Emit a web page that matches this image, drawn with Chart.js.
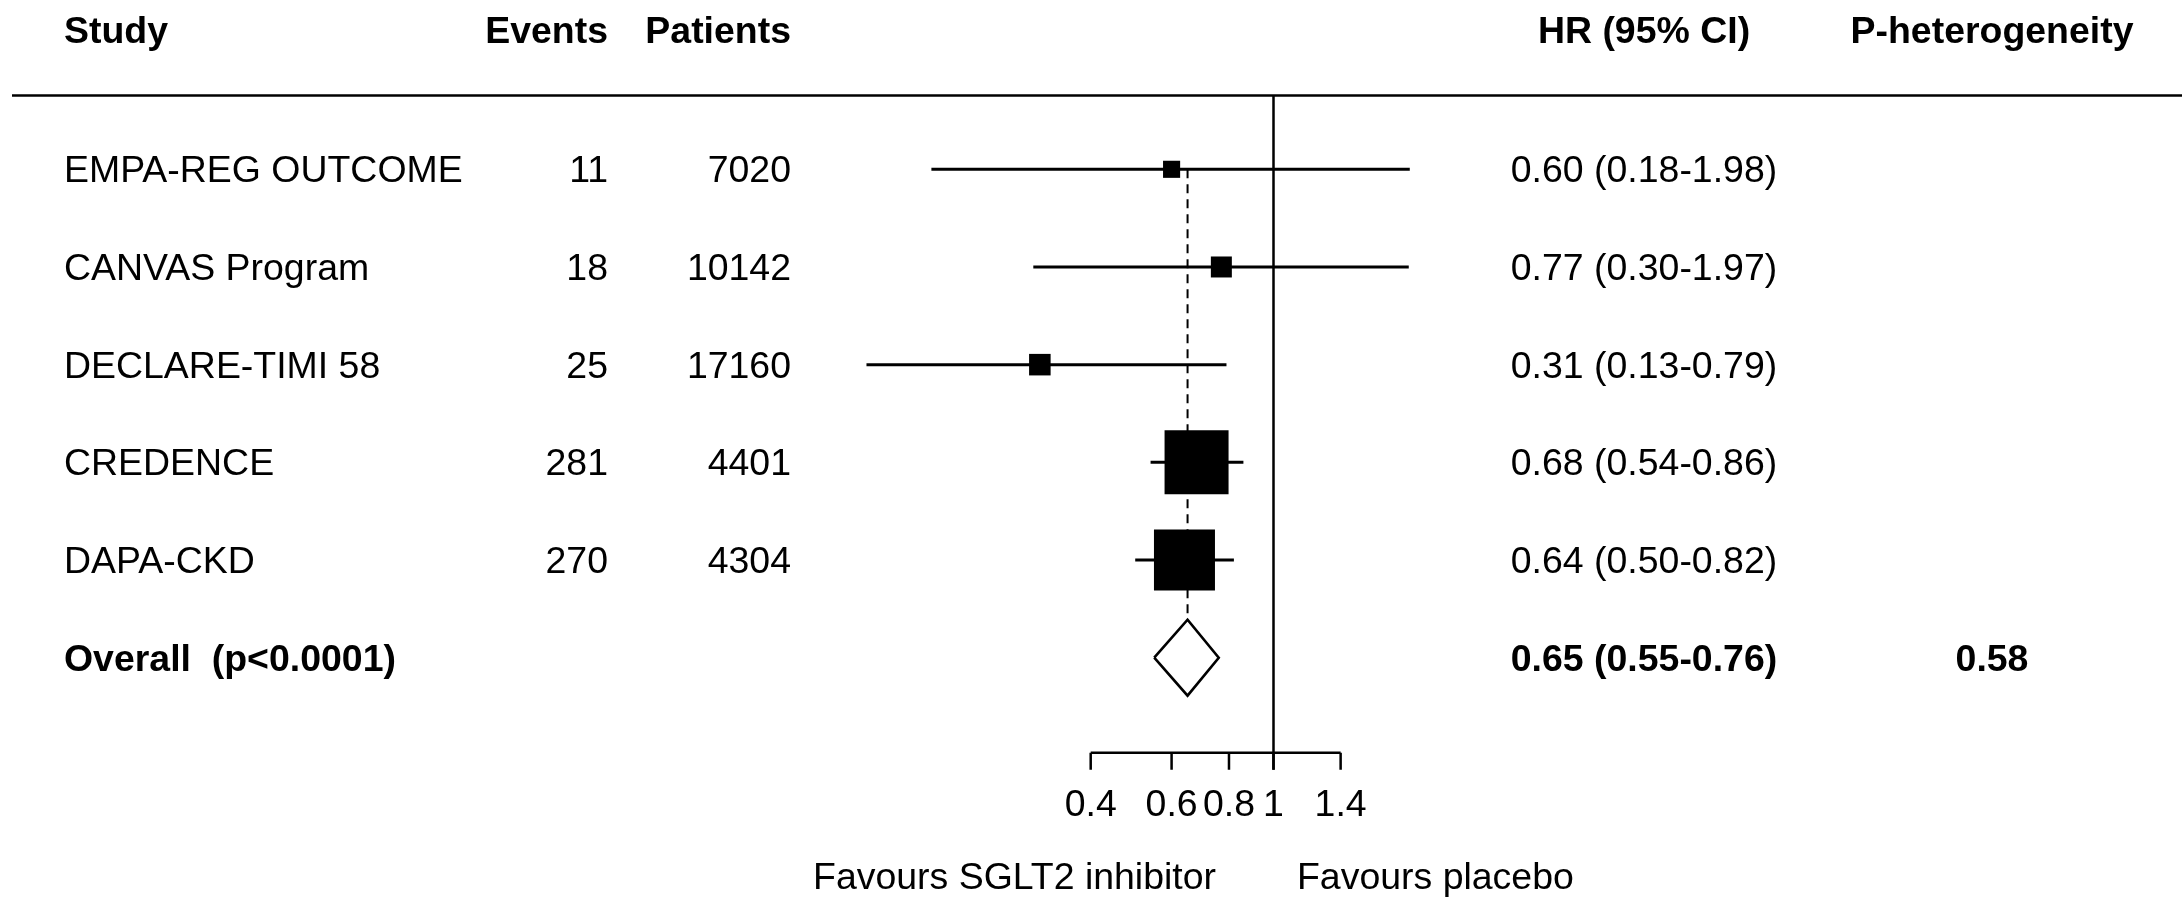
<!DOCTYPE html>
<html>
<head>
<meta charset="utf-8">
<script src="https://cdn.jsdelivr.net/npm/chart.js@4.4.1/dist/chart.umd.min.js"></script>
<style>
  html, body { margin: 0; padding: 0; background: #ffffff; }
  #wrap { width: 2182px; height: 897px; position: relative; }
</style>
</head>
<body>
<div id="wrap"><canvas id="forest"></canvas></div>
<script>
// ---------------- data ----------------
const studies   = ['EMPA-REG OUTCOME', 'CANVAS Program', 'DECLARE-TIMI 58', 'CREDENCE', 'DAPA-CKD'];
const events    = [11, 18, 25, 281, 270];
const patients  = [7020, 10142, 17160, 4401, 4304];
const hr        = [0.60, 0.77, 0.31, 0.68, 0.64];
const ciLow     = [0.18, 0.30, 0.13, 0.54, 0.50];
const ciHigh    = [1.98, 1.97, 0.79, 0.86, 0.82];
const weights   = [1.8, 3.0, 3.2, 48.7, 43.2];   // relative weight (%), sets box size

const overallLabel = 'Overall  (p<0.0001)';
const overallHR    = 0.65;
const overallLow   = 0.55;
const overallHigh  = 0.76;
const pHeterogeneity = '0.58';

const xTicks      = [0.4, 0.6, 0.8, 1, 1.4];
const xTickLabels = ['0.4', '0.6', '0.8', '1', '1.4'];
const headers     = ['Study', 'Events', 'Patients', 'HR (95% CI)', 'P-heterogeneity'];
const favoursLeft  = 'Favours SGLT2 inhibitor';
const favoursRight = 'Favours placebo';

// ---------------- layout (pixels / row units) ----------------
const W = 2182, H = 897;
const ROW_PX = 97.68, ROW0_PX = 169.3;
const yMin = -ROW0_PX / ROW_PX, yMax = yMin + H / ROW_PX;
const PX_PER_LN = 199.5, X1_PX = 1273.5;
const xMin = Math.exp(-X1_PX / PX_PER_LN), xMax = Math.exp((W - X1_PX) / PX_PER_LN);

const LY = { header: -1.295, rule: -0.755, axis: 5.973, tickEnd: 6.146, tickLabel: 6.621, favours: 7.37, diamondHalf: 0.389 };
const COL = { study: 64, events: 608, patients: 791, hr: 1644, phet: 1992, favL: 1216, favR: 1297, ruleStart: 12 };
const FONT = '"Liberation Sans", Arial, Helvetica, sans-serif';
const FS = 36, SX = 1.04;
const overallRow = studies.length;
const fmt2 = v => v.toFixed(2);

// ---------------- datasets ----------------
const wMax = Math.max(...weights);
const boxRadius = ctx => (64 * Math.pow(weights[ctx.dataIndex] / wMax, 0.4)) / Math.SQRT2;
const squareDs = {
  label: 'HR', order: 0,
  data: studies.map((s, i) => ({ x: hr[i], y: i })),
  pointStyle: 'rect',
  pointRadius: boxRadius, pointHoverRadius: boxRadius,
  backgroundColor: '#000', borderColor: '#000', pointBorderWidth: 0, showLine: false
};
const ciDs = studies.map((s, i) => ({
  label: s + ' CI', order: 2,
  data: [{ x: ciLow[i], y: i }, { x: ciHigh[i], y: i }],
  showLine: true, borderColor: '#000', borderWidth: 3, pointRadius: 0, pointHoverRadius: 0
}));
const h = LY.diamondHalf;
const diamondDs = {
  label: 'Overall', order: 1,
  data: [
    { x: overallLow, y: overallRow }, { x: overallHR, y: overallRow - h },
    { x: overallHigh, y: overallRow }, { x: overallHR, y: overallRow + h },
    { x: overallLow, y: overallRow }
  ],
  showLine: true, borderColor: '#000', borderWidth: 2.6, borderJoinStyle: 'miter',
  pointRadius: 0, pointHoverRadius: 0, fill: false
};
const dashDs = {
  label: 'Overall estimate', order: 3,
  data: [{ x: overallHR, y: 0 }, { x: overallHR, y: overallRow - h }],
  showLine: true, borderColor: '#000', borderWidth: 2, borderDash: [9, 6], pointRadius: 0, pointHoverRadius: 0
};
const nullDs = {
  label: 'No effect', order: 3,
  data: [{ x: 1, y: LY.rule }, { x: 1, y: LY.tickEnd }],
  showLine: true, borderColor: '#000', borderWidth: 2.5, pointRadius: 0, pointHoverRadius: 0
};
const axisDs = {
  label: 'Axis', order: 3,
  data: [{ x: xTicks[0], y: LY.axis }, { x: xTicks[xTicks.length - 1], y: LY.axis }],
  showLine: true, borderColor: '#000', borderWidth: 2.5, pointRadius: 0, pointHoverRadius: 0
};
const tickDs = xTicks.map(t => ({
  label: 'tick ' + t, order: 3,
  data: [{ x: t, y: LY.axis }, { x: t, y: LY.tickEnd }],
  showLine: true, borderColor: '#000', borderWidth: 2.5, pointRadius: 0, pointHoverRadius: 0
}));

// ---------------- text plugin ----------------
function txt(ctx, s, x, y, align, bold) {
  ctx.save();
  ctx.font = (bold ? 'bold ' : '') + FS + 'px ' + FONT;
  ctx.fillStyle = '#000';
  ctx.textAlign = align;
  ctx.textBaseline = 'alphabetic';
  ctx.translate(x, y);
  ctx.scale(SX, 1);
  ctx.fillText(s, 0, 0);
  ctx.restore();
}
const tablePlugin = {
  id: 'forestTable',
  beforeDatasetsDraw(chart) {
    const ctx = chart.ctx, ys = chart.scales.y;
    const yr = ys.getPixelForValue(LY.rule);
    ctx.save();
    ctx.strokeStyle = '#000'; ctx.lineWidth = 2.5;
    ctx.beginPath(); ctx.moveTo(COL.ruleStart, yr); ctx.lineTo(W, yr); ctx.stroke();
    ctx.restore();
  },
  afterDatasetsDraw(chart) {
    const ctx = chart.ctx, xs = chart.scales.x, ys = chart.scales.y;
    const base = v => ys.getPixelForValue(v) + 13;
    const yh = ys.getPixelForValue(LY.header);
    txt(ctx, headers[0], COL.study, yh, 'left', true);
    txt(ctx, headers[1], COL.events, yh, 'right', true);
    txt(ctx, headers[2], COL.patients, yh, 'right', true);
    txt(ctx, headers[3], COL.hr, yh, 'center', true);
    txt(ctx, headers[4], COL.phet, yh, 'center', true);
    studies.forEach((s, i) => {
      const y = base(i);
      txt(ctx, s, COL.study, y, 'left', false);
      txt(ctx, String(events[i]), COL.events, y, 'right', false);
      txt(ctx, String(patients[i]), COL.patients, y, 'right', false);
      txt(ctx, fmt2(hr[i]) + ' (' + fmt2(ciLow[i]) + '-' + fmt2(ciHigh[i]) + ')', COL.hr, y, 'center', false);
    });
    const yo = base(overallRow);
    txt(ctx, overallLabel, COL.study, yo, 'left', true);
    txt(ctx, fmt2(overallHR) + ' (' + fmt2(overallLow) + '-' + fmt2(overallHigh) + ')', COL.hr, yo, 'center', true);
    txt(ctx, pHeterogeneity, COL.phet, yo, 'center', true);
    const yt = ys.getPixelForValue(LY.tickLabel);
    xTicks.forEach((t, i) => txt(ctx, xTickLabels[i], xs.getPixelForValue(t), yt, 'center', false));
    const yf = ys.getPixelForValue(LY.favours);
    txt(ctx, favoursLeft, COL.favL, yf, 'right', false);
    txt(ctx, favoursRight, COL.favR, yf, 'left', false);
  }
};

new Chart(document.getElementById('forest'), {
  type: 'scatter',
  data: { datasets: [squareDs, diamondDs, ...ciDs, dashDs, nullDs, axisDs, ...tickDs] },
  options: {
    responsive: true, maintainAspectRatio: false, animation: false, events: [],
    layout: { padding: 0, autoPadding: false },
    plugins: { legend: { display: false }, tooltip: { enabled: false } },
    scales: {
      x: { type: 'logarithmic', min: xMin, max: xMax, display: false },
      y: { type: 'linear', min: yMin, max: yMax, reverse: true, display: false }
    }
  },
  plugins: [tablePlugin]
});
</script>
</body>
</html>
